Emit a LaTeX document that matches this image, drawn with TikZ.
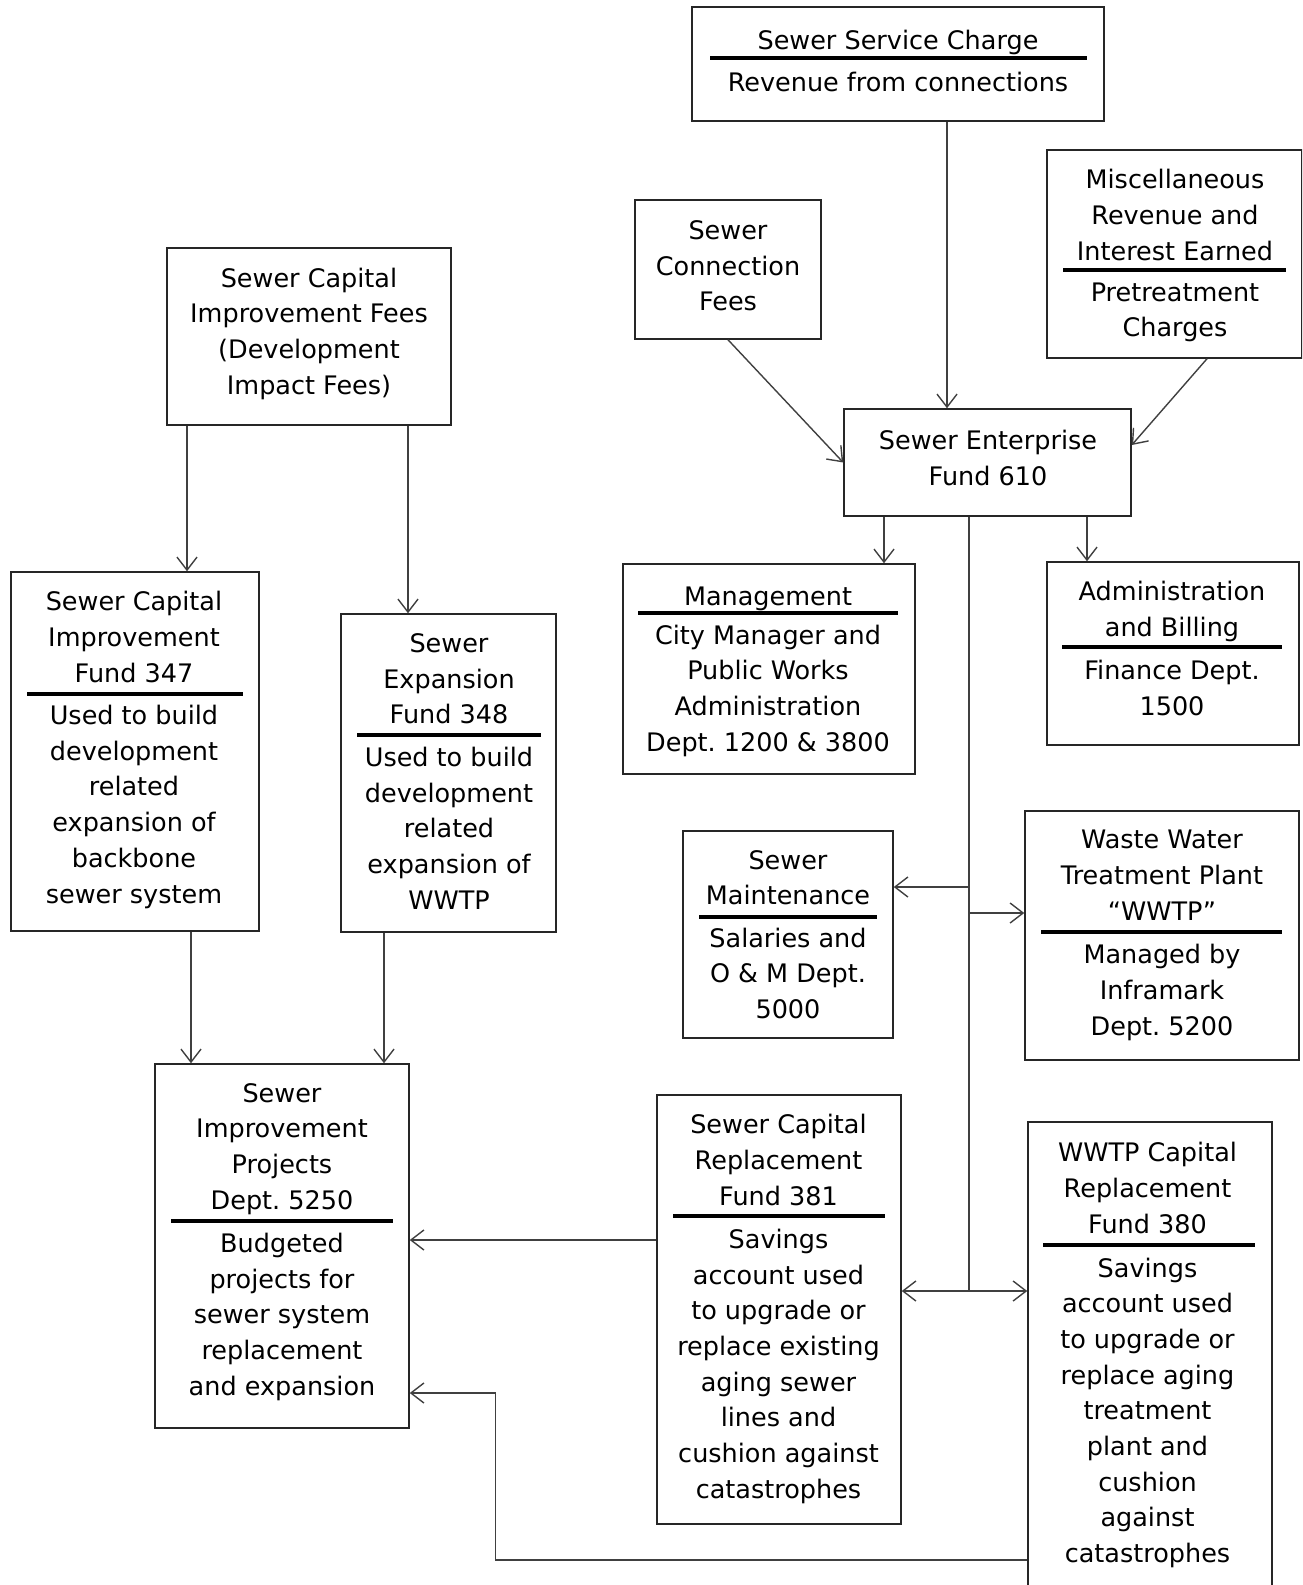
\documentclass[tikz,border=0pt]{standalone}
\usepackage{fontspec}
\setmainfont{DejaVu Sans}
\usetikzlibrary{arrows.meta}
\begin{document}
\begin{tikzpicture}[x=1pt, y=-1pt, line width=1.5pt,
        box/.style={draw=black!85, inner sep=0pt},
        txt/.style={align=center, inner sep=0pt, yshift=-3pt, font=\fontsize{25.5}{35.7}\selectfont,
            execute at begin node=\strut, execute at end node=\strut},
        arr/.style={draw=black!75, line width=1.4pt, -{Straight Barb[length=13pt, width=20pt]}},
        rule/.style={draw=black, line width=3.5pt}]
    \useasboundingbox (0,0) rectangle (1302,1585);
    \clip (0,0) rectangle (1302,1585);

    \foreach \n/\xa/\ya/\xb/\yb in {svc/692/7/1104/121, conn/635/200/821/339, misc/1047/150/1302/358,
            cif/167/248/451/425, ent/844/409/1131/516, f347/11/572/259/931, f348/341/614/556/932,
            mgmt/623/564/915/774, admin/1047/562/1299/745, maint/683/831/893/1038, wwtp/1025/811/1299/1060,
            sip/155/1064/409/1428, f381/657/1095/901/1524, f380/1028/1122/1272/1600}{
        \node[box, minimum width={\xb-\xa}, minimum height={\yb-\ya}] (\n) at ({(\xa+\xb)/2}, {(\ya+\yb)/2}) {};
    }
    \foreach \xa/\xb/\y in {710/1087/58, 1063/1286/270, 27/243/694, 357/541/735, 638/898/613, 1062/1282/647,
            699/877/917, 1041/1282/932, 171/393/1221, 673/885/1216, 1043/1255/1245}
        \draw[rule] (\xa,\y) -- (\xb,\y);

    \node[txt] (svc-t) at (898,39.5) {Sewer Service Charge};
    \node[txt] (svc-b) at (898,81) {Revenue from connections};
    \node[txt] (conn-t) at (728,268) {Sewer\\Connection\\Fees};
    \node[txt] (misc-t) at (1175,217) {Miscellaneous\\Revenue and\\Interest Earned};
    \node[txt] (misc-b) at (1175,312) {Pretreatment\\Charges};
    \node[txt] (cif-t) at (309,333.5) {Sewer Capital\\Improvement Fees\\(Development\\Impact Fees)};
    \node[txt] (ent-t) at (988,460) {Sewer Enterprise\\Fund 610};
    \node[txt] (f347-t) at (134,639) {Sewer Capital\\Improvement\\Fund 347};
    \node[txt] (f347-b) at (134,806.5) {Used to build\\development\\related\\expansion of\\backbone\\sewer system};
    \node[txt] (f348-t) at (449,681) {Sewer\\Expansion\\Fund 348};
    \node[txt] (f348-b) at (449,830.5) {Used to build\\development\\related\\expansion of\\WWTP};
    \node[txt] (mgmt-t) at (768,595) {Management};
    \node[txt] (mgmt-b) at (768,690.5) {City Manager and\\Public Works\\Administration\\Dept.\ 1200 \& 3800};
    \node[txt] (admin-t) at (1172,611.5) {Administration\\and Billing};
    \node[txt] (admin-b) at (1172,690) {Finance Dept.\\1500};
    \node[txt] (maint-t) at (788,880) {Sewer\\Maintenance};
    \node[txt] (maint-b) at (788,975.5) {Salaries and\\O \& M Dept.\\5000};
    \node[txt] (wwtp-t) at (1162,877.5) {Waste Water\\Treatment Plant\\“WWTP”};
    \node[txt] (wwtp-b) at (1162,992) {Managed by\\Inframark\\Dept.\ 5200};
    \node[txt] (sip-t) at (282,1148.5) {Sewer\\Improvement\\Projects\\Dept.\ 5250};
    \node[txt] (sip-b) at (282,1316.5) {Budgeted\\projects for\\sewer system\\replacement\\and expansion};
    \node[txt] (f381-t) at (778.5,1162) {Sewer Capital\\Replacement\\Fund 381};
    \node[txt] (f381-b) at (778.5,1366) {Savings\\account used\\to upgrade or\\replace existing\\aging sewer\\lines and\\cushion against\\catastrophes};
    \node[txt] (f380-t) at (1147.5,1190) {WWTP Capital\\Replacement\\Fund 380};
    \node[txt] (f380-b) at (1147.5,1412.5) {Savings\\account used\\to upgrade or\\replace aging\\treatment\\plant and\\cushion\\against\\catastrophes};

    \draw[arr] ([xshift=49pt]svc.south) -- ([xshift=-40.5pt]ent.north);
    \draw[arr] (conn.south) -- (ent.west);
    \draw[arr] ([xshift=32.5pt]misc.south) -- ([yshift=17.5pt]ent.east);
    \draw[arr] ([xshift=-103.5pt]ent.south) -- ([xshift=115pt]mgmt.north);
    \draw[arr] ([xshift=99.5pt]ent.south) -- ([xshift=-86pt]admin.north);

    \coordinate (tr) at ([xshift=-18.5pt]ent.south);
    \coordinate (jm) at ([yshift=47.5pt]maint.east);
    \coordinate (jw) at ([yshift=22.5pt]wwtp.west);
    \coordinate (jr) at ([yshift=18.5pt]f381.east);
    \draw[arr, -] (tr) -- (tr |- jr);
    \draw[arr] (tr |- jm) -- (jm);
    \draw[arr] (tr |- jw) -- (jw);
    \draw[arr] (tr |- jr) -- (jr);
    \draw[arr] (tr |- jr) -- (f380.west |- jr);

    \draw[arr] ([xshift=-122pt]cif.south) -- ([xshift=52pt]f347.north);
    \draw[arr] ([xshift=99pt]cif.south) -- ([xshift=-40.5pt]f348.north);
    \draw[arr] ([xshift=56pt]f347.south) -- ([xshift=-91pt]sip.north);
    \draw[arr] ([xshift=-64.5pt]f348.south) -- ([xshift=102pt]sip.north);
    \draw[arr] ([yshift=69.5pt]f381.west) -- ([yshift=6pt]sip.east);
    \draw[arr] ([yshift=-199pt]f380.west) -| ([xshift=86pt,yshift=-147pt]sip.east) -- ([yshift=-147pt]sip.east);
\end{tikzpicture}
\end{document}
